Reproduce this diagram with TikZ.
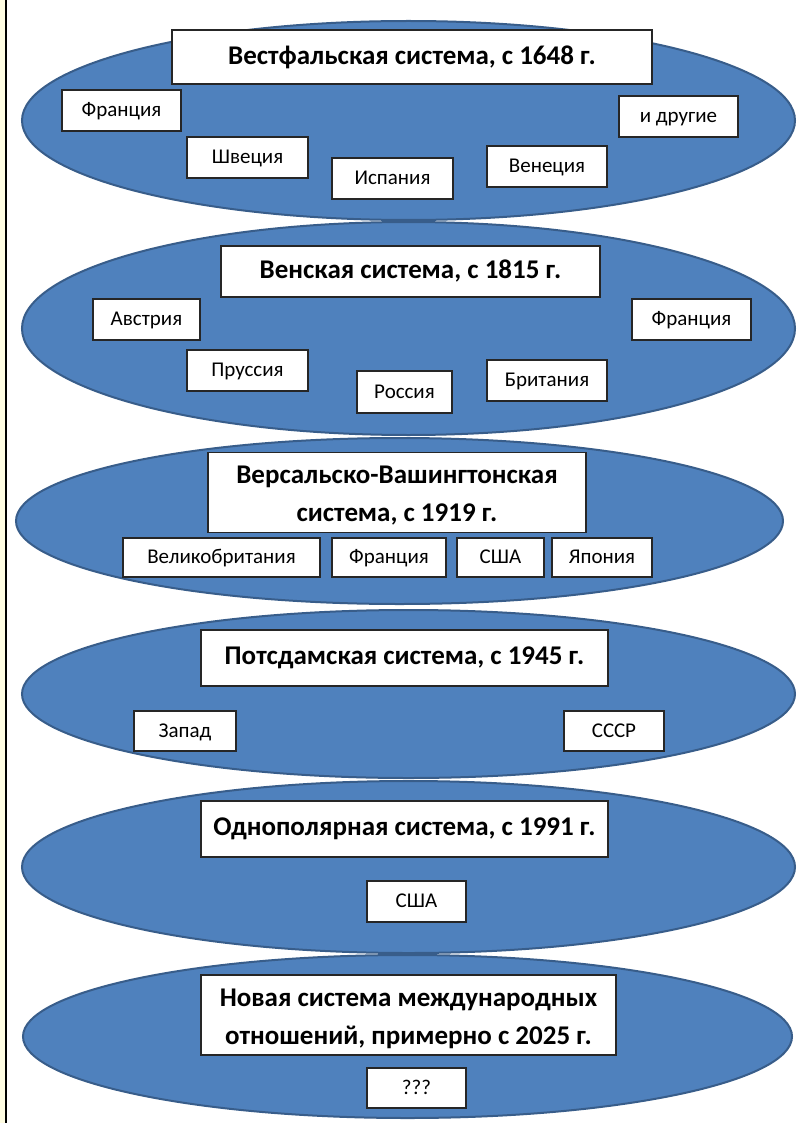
\documentclass[tikz,border=0pt]{standalone}
\usepackage{fontspec}
\setmainfont{Carlito}
\usetikzlibrary{shapes.geometric}
\definecolor{ellfill}{HTML}{4F81BD}
\definecolor{elldraw}{HTML}{385D8A}
\definecolor{strip}{HTML}{FFFDE2}
\newcommand{\lowr}[1]{\raisebox{-3.5pt}[\height][\depth]{#1}}
\begin{document}
\begin{tikzpicture}[x=1pt,y=-1pt,
  oval/.style={ellipse,draw=elldraw,fill=ellfill,line width=2pt,inner sep=0pt},
  titlebox/.style={draw=black!85,fill=white,line width=1.2pt,inner sep=0pt,align=center,
    font=\fontsize{27}{38}\selectfont\bfseries},
  itembox/.style={draw=black!85,fill=white,line width=1.2pt,inner sep=0pt,
    text height=14pt,text depth=1.5pt,font=\fontsize{21}{22}\selectfont},
  sz/.style 2 args={minimum width=#1pt,minimum height=#2pt}]
\useasboundingbox (0,0) rectangle (798,1123);
\fill[white] (0,0) rectangle (798,1123);
\fill[strip] (0,0) rectangle (5,1123);
\draw[black,line width=1.5pt] (6,0) -- (6,1123);

% ellipses
\node[oval,minimum width=773pt,minimum height=199pt] (e1) at (408.5,120.5) {};
\node[oval,minimum width=773pt,minimum height=213pt] (e2) at (408.5,328.5) {};
\node[oval,minimum width=767pt,minimum height=166pt] (e3) at (399.5,521) {};
\node[oval,minimum width=773pt,minimum height=168pt] (e4) at (408.5,694) {};
\node[oval,minimum width=773pt,minimum height=172pt] (e5) at (408.5,867) {};
\node[oval,minimum width=769pt,minimum height=163pt] (e6) at (407.5,1036.5) {};

% Westphalian
\node[titlebox,sz={480}{54}] (t1) at (412,57) {Вестфальская система, с 1648 г.};
\node[itembox,sz={119}{41}] (fr1) at (121.5,110.5) {Франция};
\node[itembox,sz={119}{41}] (dr1) at (678.5,116.5) {и другие};
\node[itembox,sz={121}{41}] (sw1) at (247.5,157.5) {Швеция};
\node[itembox,sz={121}{41}] (is1) at (392.5,178.5) {Испания};
\node[itembox,sz={120}{41}] (ve1) at (547,166.5) {Венеция};

% Vienna
\node[titlebox,sz={379}{51}] (t2) at (410.5,271.5) {Венская система, с 1815 г.};
\node[itembox,sz={107}{41}] (av2) at (146.5,319.5) {Австрия};
\node[itembox,sz={119}{41}] (fr2) at (691.5,319.5) {Франция};
\node[itembox,sz={121}{41}] (pr2) at (247.5,370.5) {Пруссия};
\node[itembox,sz={95}{42}] (ro2) at (404.5,392) {Россия};
\node[itembox,sz={120}{41}] (br2) at (547,380.5) {Британия};

% Versailles-Washington
\node[titlebox,sz={378}{80}] (t3) at (397,492.5) {\lowr{Версальско-Вашингтонская}\\\lowr{система, с 1919 г.}};
\node[itembox,sz={197}{39}] (vb3) at (221.5,557.5) {Великобритания};
\node[itembox,sz={114}{39}] (fr3) at (389,557.5) {Франция};
\node[itembox,sz={87}{39}] (us3) at (500.5,557.5) {США};
\node[itembox,sz={100}{39}] (ja3) at (602,557.5) {Япония};

% Potsdam
\node[titlebox,sz={407}{56}] (t4) at (404.5,658) {Потсдамская система, с 1945 г.};
\node[itembox,sz={102}{40}] (za4) at (185,731) {Запад};
\node[itembox,sz={100}{40}] (ss4) at (614,731) {СССР};

% Unipolar
\node[titlebox,sz={407}{56}] (t5) at (404.5,829) {Однополярная система, с 1991 г.};
\node[itembox,sz={99}{41}] (us5) at (416.5,901.5) {США};

% New
\node[titlebox,sz={415}{80}] (t6) at (408.5,1015) {\lowr{Новая система международных}\\\lowr{отношений, примерно с 2025 г.}};
\node[itembox,sz={99}{40}] (q6) at (416.5,1088) {???};
\end{tikzpicture}
\end{document}
